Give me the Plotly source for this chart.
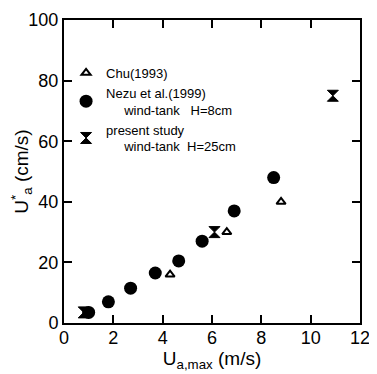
import plotly.graph_objects as go

# Data
chu_x = [4.3, 6.6, 8.8]
chu_y = [16, 30, 40]
nezu_x = [1.0, 1.8, 2.7, 3.7, 4.65, 5.6, 6.9, 8.5]
nezu_y = [3.5, 7, 11.5, 16.5, 20.5, 27, 37, 48]
present_x = [0.8, 6.1, 10.9]
present_y = [3.5, 30, 75]

x_ticks = [0, 2, 4, 6, 8, 10, 12]
y_ticks = [0, 20, 40, 60, 80, 100]

nb = "\u00a0"
fig = go.Figure()
fig.add_trace(go.Scatter(x=chu_x, y=chu_y, mode="markers", name="Chu(1993)",
                         marker=dict(symbol="triangle-up-open", size=8, color="black",
                                     line=dict(width=2, color="black"))))
fig.add_trace(go.Scatter(x=nezu_x, y=nezu_y, mode="markers",
                         name="Nezu et al.(1999)<br>" + nb * 5 + "wind-tank" + nb * 3 + "H=8cm",
                         marker=dict(symbol="circle", size=13, color="black")))
fig.add_trace(go.Scatter(x=present_x, y=present_y, mode="markers",
                         name="present study<br>" + nb * 5 + "wind-tank" + nb * 2 + "H=25cm",
                         marker=dict(symbol="hourglass", size=11, color="black",
                                     line=dict(width=1, color="black"))))

axis_common = dict(showline=True, linecolor="black", linewidth=2, mirror="ticks",
                   ticks="inside", ticklen=8, tickwidth=2, tickcolor="black",
                   showgrid=False, zeroline=False, automargin=False,
                   tickfont=dict(family="Liberation Sans, Arial", size=18, color="black"))

# page body adds an 8px offset, so the figure is sized to fit inside the window
fig.update_layout(
    width=369, height=366,
    margin=dict(l=56, r=17, t=12, b=51),
    paper_bgcolor="white", plot_bgcolor="white",
    font=dict(family="Liberation Sans, Arial", color="black"),
    xaxis=dict(range=[0, 12], tickvals=x_ticks, ticklabelstandoff=-3,
               title=dict(text="U<sub>a,max</sub> (m/s)", font=dict(size=19), standoff=0),
               **axis_common),
    yaxis=dict(range=[0, 100], tickvals=y_ticks,
               title=dict(text="U<sup>*</sup><sub>a</sub> (cm/s)", font=dict(size=19), standoff=2),
               **axis_common),
    legend=dict(x=0.007, y=0.875, xanchor="left", yanchor="top",
                bgcolor="rgba(0,0,0,0)", font=dict(size=13, color="black"),
                itemwidth=30, tracegroupgap=0),
    showlegend=True,
)

fig.write_html("out.html")
